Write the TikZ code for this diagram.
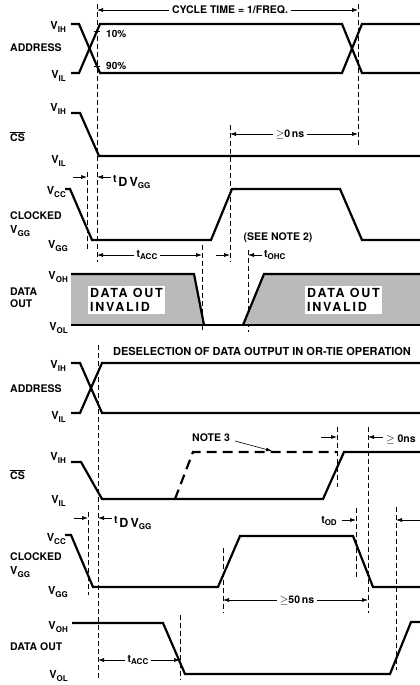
\documentclass[tikz,border=0pt]{standalone}
\usepackage{fontspec}
\setmainfont{TeX Gyre Heros}
\newfontfamily\boxfont[LetterSpace=14]{TeX Gyre Heros}
\usetikzlibrary{arrows.meta}
\newcommand{\lowtxt}[1]{\raisebox{-2.5pt}{\fontsize{8}{8}\selectfont #1}}

\begin{document}
\begin{tikzpicture}[x=1pt,y=-1pt,
  sig/.style={line width=2.2pt,line join=miter},
  guide/.style={line width=0.7pt,dash pattern=on 5pt off 3pt},
  dimline/.style={line width=0.6pt,{Latex[length=6pt,width=4pt]}-{Latex[length=6pt,width=4pt]}},
  toline/.style={line width=0.6pt,-{Latex[length=6pt,width=4pt]}},
  lbl/.style={font=\fontsize{10.5}{12}\selectfont\bfseries},
  vlbl/.style={font=\fontsize{11}{12}\selectfont\bfseries,anchor=east},
  dimtext/.style={lbl,fill=white,inner xsep=3pt},
  invalid/.style={font=\fontsize{12.5}{14}\selectfont\boxfont\bfseries,fill=white,inner sep=2pt,align=left,anchor=west},
  hatch/.style={fill=black!27}]
\tikzstyle{every node}+=[inner sep=0pt]
\useasboundingbox (0,0) rectangle (420,685);

% ---- read cycle
\draw [guide] (97,4) -- (97,262);
\draw [guide] (358,4) -- (358,145);
\draw [guide] (230,125) -- (230,262);
\draw [guide] (87,172) -- (87,250);
\draw [guide] (202,245) -- (202,330);
\draw [guide] (248,250) -- (248,332);

\coordinate (cycL) at (97,10);
\coordinate (cycR) at (358,10);
\draw [dimline] (cycL) -- (cycR);
\node [dimtext] (cyc) at (230,10) {CYCLE TIME = 1/FREQ.};

\draw [sig] (71,24) -- (79,24) -- (100,73) -- (342,73) -- (362,24) -- (420,24);
\draw [sig] (71,73) -- (79,73) -- (100,24) -- (342,24) -- (362,73) -- (420,73);
\draw [line width=0.8pt] (94,31) -- (100,31);
\draw [line width=0.8pt] (94,66) -- (100,66);
\node [lbl,anchor=west,font=\fontsize{10}{12}\selectfont\bfseries] (pctA) at (106,34) {10\%};
\node [lbl,anchor=west,font=\fontsize{10}{12}\selectfont\bfseries] (pctB) at (106,66) {90\%};
\node [vlbl] (vihA) at (66,27) {V\lowtxt{IH}};
\node [lbl,anchor=west] (addrA) at (10,48) {ADDRESS};
\node [vlbl] (vilA) at (66,76) {V\lowtxt{IL}};

\draw [sig] (71,113) -- (80,113) -- (99,156) -- (420,156);
\node [vlbl] (vihB) at (66,109) {V\lowtxt{IH}};
\node [lbl,anchor=west] (csA) at (10,137) {\(\overline{\mbox{CS}}\)};
\node [vlbl] (vilB) at (66,161) {V\lowtxt{IL}};
\coordinate (zeroL) at (230,134);
\coordinate (zeroR) at (358,134);
\draw [dimline] (zeroL) -- (zeroR);
\node [dimtext] (zero) at (290,134) {$\geq$0\,ns};

\draw [sig] (65,189) -- (70,189) -- (92,240) -- (211,240) -- (232,189) -- (340,189) -- (362,240) -- (420,240);
\node [vlbl] (vccA) at (66,192) {V\lowtxt{CC}};
\node [lbl,anchor=west] (clkA) at (10,216) {CLOCKED};
\node [lbl,anchor=west,font=\fontsize{11}{12}\selectfont\bfseries] (vggA) at (10,231) {V\lowtxt{GG}};
\node [vlbl] (vggB) at (68,246) {V\lowtxt{GG}};
\coordinate (dvA) at (87,177);
\coordinate (dvB) at (97,177);
\draw [toline] (73,177) -- (dvA);
\draw [toline] (111,177) -- (dvB);
\node [lbl,anchor=west] (tdvA) at (113,182) {\raisebox{4pt}{t}\,{\fontsize{12.5}{12}\selectfont D\,V}\lowtxt{GG}};
\node [lbl] (note2) at (278,238) {(SEE NOTE 2)};

\fill [hatch] (71,274) -- (194,274) -- (204,325) -- (71,325) -- cycle;
\fill [hatch] (264,274) -- (420,274) -- (420,325) -- (243,325) -- cycle;
\draw [sig] (71,274) -- (194,274) -- (204,325);
\draw [sig] (71,325) -- (420,325);
\draw [sig] (243,325) -- (264,274) -- (420,274);
\node [invalid] (invA) at (88,300) {DATA OUT\\INVALID};
\node [invalid] (invB) at (305,300) {DATA OUT\\INVALID};
\node [vlbl] (vohA) at (68,277) {V\lowtxt{OH}};
\node [lbl,anchor=west,align=left] (doutA) at (10,298) {DATA\\OUT};
\node [vlbl] (volA) at (68,328) {V\lowtxt{OL}};
\coordinate (accL) at (97,255);
\coordinate (accR) at (202,255);
\draw [dimline] (accL) -- (accR);
\node [dimtext] (tacc) at (147,255) {t\lowtxt{ACC}};
\coordinate (ohcA) at (230,255);
\coordinate (ohcB) at (248,255);
\draw [toline] (216,255) -- (ohcA);
\draw [toline] (262,255) -- (ohcB);
\node [lbl,anchor=west] (tohc) at (264,255) {t\lowtxt{OHC}};

% ---- deselection
\node [lbl,font=\fontsize{11}{12}\selectfont\bfseries] (title) at (262,351) {DESELECTION OF DATA OUTPUT IN OR-TIE OPERATION};
\draw [guide] (98,345) -- (98,680);
\draw [guide] (88,512) -- (88,595);
\draw [guide] (337,427) -- (337,487);
\draw [guide] (368,427) -- (368,613);
\draw [guide] (356,508) -- (356,578);
\draw [guide] (396,507) -- (396,670);
\draw [guide] (223,548) -- (223,613);
\draw [guide] (180,615) -- (180,680);

\draw [sig] (71,363) -- (80,363) -- (102,413) -- (420,413);
\draw [sig] (71,413) -- (80,413) -- (102,363) -- (420,363);
\node [vlbl] (vihC) at (66,366) {V\lowtxt{IH}};
\node [lbl,anchor=west] (addrB) at (10,389) {ADDRESS};
\node [vlbl] (vilC) at (66,417) {V\lowtxt{IL}};

\draw [sig] (71,462) -- (81,462) -- (102,499) -- (323,499) -- (344,452) -- (420,452);
\draw [sig,dash pattern=on 10pt off 6pt] (175,499) -- (193,452) -- (337,452);
\node [vlbl] (vihD) at (66,458) {V\lowtxt{IH}};
\node [lbl,anchor=west] (csB) at (10,475) {\(\overline{\mbox{CS}}\)};
\node [vlbl] (vilD) at (66,501) {V\lowtxt{IL}};
\node [lbl] (note3) at (211,438) {NOTE 3};
\coordinate (n3tip) at (272,451);
\draw [toline] (note3.east) ++(5,3) -- (n3tip);
\coordinate (dsA) at (337,437);
\coordinate (dsB) at (368,437);
\draw [toline] (321,437) -- (dsA);
\draw [toline] (383,437) -- (dsB);
\node [lbl,anchor=west] (zeroB) at (386,439) {$\geq$ 0ns};

\draw [sig] (65,535) -- (71,535) -- (93,587) -- (218,587) -- (240,536) -- (353,536) -- (373,587) -- (420,587);
\node [vlbl] (vccB) at (66,539) {V\lowtxt{CC}};
\node [lbl,anchor=west] (clkB) at (10,557) {CLOCKED};
\node [lbl,anchor=west,font=\fontsize{11}{12}\selectfont\bfseries] (vggC) at (10,572) {V\lowtxt{GG}};
\node [vlbl] (vggD) at (68,592) {V\lowtxt{GG}};
\coordinate (dvC) at (88,518);
\coordinate (dvD) at (98,518);
\draw [toline] (74,518) -- (dvC);
\draw [toline] (112,518) -- (dvD);
\node [lbl,anchor=west] (tdvB) at (114,523) {\raisebox{4pt}{t}\,{\fontsize{12.5}{12}\selectfont D\,V}\lowtxt{GG}};
\node [lbl] (tod) at (329,521) {t\lowtxt{OD}};
\coordinate (odA) at (356,520);
\coordinate (odB) at (396,520);
\draw [toline] (342,520) -- (odA);
\draw [toline] (420,520) -- (odB);
\coordinate (fiftyL) at (223,600);
\coordinate (fiftyR) at (368,600);
\draw [dimline] (fiftyL) -- (fiftyR);
\node [dimtext] (fifty) at (297,600) {$\geq$50\,ns};

\draw [sig] (72,623) -- (163,623) -- (185,674) -- (390,674) -- (411,622) -- (420,622);
\node [vlbl] (vohB) at (68,627) {V\lowtxt{OH}};
\node [lbl,anchor=west] (doutB) at (10,647) {DATA OUT};
\node [vlbl] (volB) at (68,676) {V\lowtxt{OL}};
\coordinate (accC) at (98,660);
\coordinate (accD) at (180,660);
\draw [dimline] (accC) -- (accD);
\node [dimtext] (taccB) at (138,660) {t\lowtxt{ACC}};
\end{tikzpicture}
\end{document}
